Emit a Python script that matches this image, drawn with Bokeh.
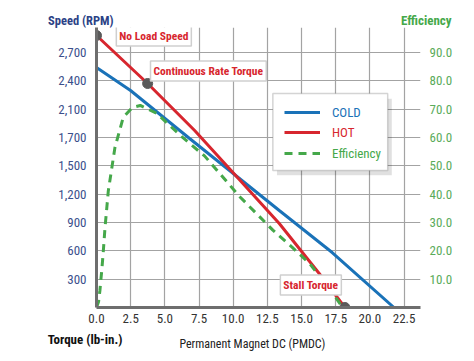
from bokeh.plotting import figure
from bokeh.models import Range1d, LinearAxis, FixedTicker, Label, Legend, LegendItem, BoxAnnotation
from bokeh.embed import file_html
from bokeh.resources import INLINE

# ---- data ----
torque_cold = [0, 2.49, 6.81, 9.73, 13.37, 17.24, 21.76]
speed_cold = [2542, 2298, 1790, 1451, 1027, 582, 0]

torque_hot = [0, 3.74, 7.18, 9.73, 13.37, 14.83, 16.29, 18.17]
speed_hot = [2880, 2372, 1874, 1470, 890, 625, 360, 0]

torque_eff = [0, 0.15, 0.25, 0.4, 0.5, 0.62, 0.75, 0.86, 1.35, 1.95, 2.6, 3.2, 4.4, 6.3, 7.9, 10.5, 12.9, 14.3, 15.6, 17.5, 18.0]
efficiency = [0, 2, 6, 14, 20, 28, 35, 41, 56.5, 67, 70.5, 71.3, 68.5, 60, 53.5, 39, 27.3, 21.3, 15.5, 3.5, 0]

marker_torque = [0, 3.74, 18.17]
marker_speed = [2880, 2372, 0]

x_ticks = [0, 2.5, 5, 7.5, 10, 12.5, 15, 17.5, 20, 22.5]
x_tick_labels = ["0.0", "2.5", "5.0", "7.5", "10.0", "12.5", "15.0", "17.5", "20.0", "22.5"]
speed_ticks = [300, 600, 900, 1200, 1500, 1800, 2100, 2400, 2700]
speed_tick_labels = ["300", "600", "900", "1,200", "1,500", "1,700", "2,100", "2,400", "2,700"]
eff_ticks = [10, 20, 30, 40, 50, 60, 70, 80, 90]
eff_tick_labels = ["10.0", "20.0", "30.0", "40.0", "50.0", "60.0", "70.0", "80.0", "90.0"]

BLUE = "#1a72b8"
RED = "#d7262e"
GREEN = "#45a84a"
NAVY = "#2c4286"
FONT = "'Liberation Sans Narrow', 'Roboto Condensed', 'Roboto', sans-serif"

p = figure(width=466, height=359, output_backend="svg", toolbar_location=None,
           x_range=Range1d(0, 23.7), y_range=Range1d(0, 2965),
           min_border_left=96, min_border_right=46, min_border_top=27, min_border_bottom=52)
p.outline_line_color = None
p.extra_y_ranges = {"eff": Range1d(0, 98.8)}

# grids
p.xgrid.ticker = FixedTicker(ticks=x_ticks[1:])
p.ygrid.ticker = FixedTicker(ticks=speed_ticks)
for g in (p.xgrid, p.ygrid):
    g.grid_line_color = "#a3a3a3"
    g.grid_line_width = 1.2


def bare(ax):
    ax.major_tick_line_color = None
    ax.minor_tick_line_color = None
    ax.major_tick_out = 0
    ax.major_tick_in = 0
    ax.major_label_text_font = FONT


# bottom axis
xa = p.xaxis[0]
bare(xa)
xa.ticker = FixedTicker(ticks=x_ticks)
xa.major_label_overrides = dict(zip(x_ticks, x_tick_labels))
xa.axis_line_color = "#6e6e6e"
xa.axis_line_width = 3
xa.major_label_standoff = 6
xa.major_label_text_font_size = "13px"
xa.major_label_text_color = "#333333"

# left axis
ya = p.yaxis[0]
bare(ya)
ya.ticker = FixedTicker(ticks=speed_ticks)
ya.major_label_overrides = dict(zip(speed_ticks, speed_tick_labels))
ya.axis_line_color = "#6e6e6e"
ya.axis_line_width = 3
ya.major_label_standoff = 10
ya.major_label_text_font_size = "13px"
ya.major_label_text_color = "#3b4f8c"

# right axis
ra = LinearAxis(y_range_name="eff", ticker=FixedTicker(ticks=eff_ticks))
bare(ra)
ra.major_label_overrides = dict(zip(eff_ticks, eff_tick_labels))
ra.axis_line_color = None
ra.major_label_standoff = 9
ra.major_label_text_font_size = "13px"
ra.major_label_text_color = "#5aab5a"
p.add_layout(ra, "right")


# axis titles as single-label axes (side panels are not clipped)
def title_axis(side, pos, text, color, bold, size, standoff, orient):
    ax = LinearAxis(ticker=FixedTicker(ticks=[pos]))
    bare(ax)
    ax.axis_line_color = None
    ax.major_label_overrides = {pos: text}
    ax.major_label_text_color = color
    ax.major_label_text_font_style = "bold" if bold else "normal"
    ax.major_label_text_font_size = size
    ax.major_label_standoff = standoff
    ax.major_label_orientation = orient
    p.add_layout(ax, side)
    return ax


title_axis("above", 22.27, "Efficiency", GREEN, True, "13px", 7, 1e-6)
title_axis("above", 1.25, "Speed (RPM)", NAVY, True, "12.5px", -18, -1e-6)
title_axis("below", 1.9, "Torque (lb-in.)", "#111111", True, "13px", 14, 1e-6)
title_axis("below", 11.4, "Permanent Magnet DC (PMDC)", "#222222", False, "12px", -21, "horizontal")

# curves
r_cold = p.line(torque_cold, speed_cold, line_color=BLUE, line_width=3)
r_hot = p.line(torque_hot, speed_hot, line_color=RED, line_width=3)
r_eff = p.line(torque_eff, efficiency, line_color=GREEN, line_width=3,
               line_dash="8 6", y_range_name="eff")
p.scatter(marker_torque, marker_speed, size=10, fill_color="#5a5a5a", line_color="#5a5a5a")


# callout labels
def callout(x, y, txt):
    p.add_layout(Label(x=x, y=y, text=txt, text_color=RED, text_font=FONT,
                       text_font_style="bold", text_font_size="11.5px",
                       text_baseline="middle", background_fill_color="white",
                       border_line_color="#cfcfcf", border_line_width=1.5, padding=3))


callout(1.45, 2875, "No Load Speed")
callout(3.95, 2504, "Continuous Rate Torque")
callout(13.45, 238, "Stall Torque")

# legend box with shadow
p.add_layout(BoxAnnotation(left=13.2, right=21.6, top=2210, bottom=1400,
                           fill_color="#000000", fill_alpha=0.12, line_alpha=0))
p.add_layout(BoxAnnotation(left=12.9, right=21.3, top=2266, bottom=1451,
                           fill_color="white", fill_alpha=1, line_color="#707070", line_width=1.5))

rows = [("COLD", r_cold, BLUE, 183), ("HOT", r_hot, RED, 163), ("Efficiency", r_eff, GREEN, 142)]
for lbl, rend, col, yy in rows:
    lg = Legend(items=[LegendItem(label=lbl, renderers=[rend])], location=(186, yy),
                background_fill_alpha=0, border_line_alpha=0, padding=2,
                glyph_width=36, glyph_height=20, label_height=20, label_standoff=12,
                label_text_color=col, label_text_font=FONT, label_text_font_size="13px",
                margin=0)
    p.add_layout(lg, "center")

open("out.html", "w").write(file_html(p, INLINE))
